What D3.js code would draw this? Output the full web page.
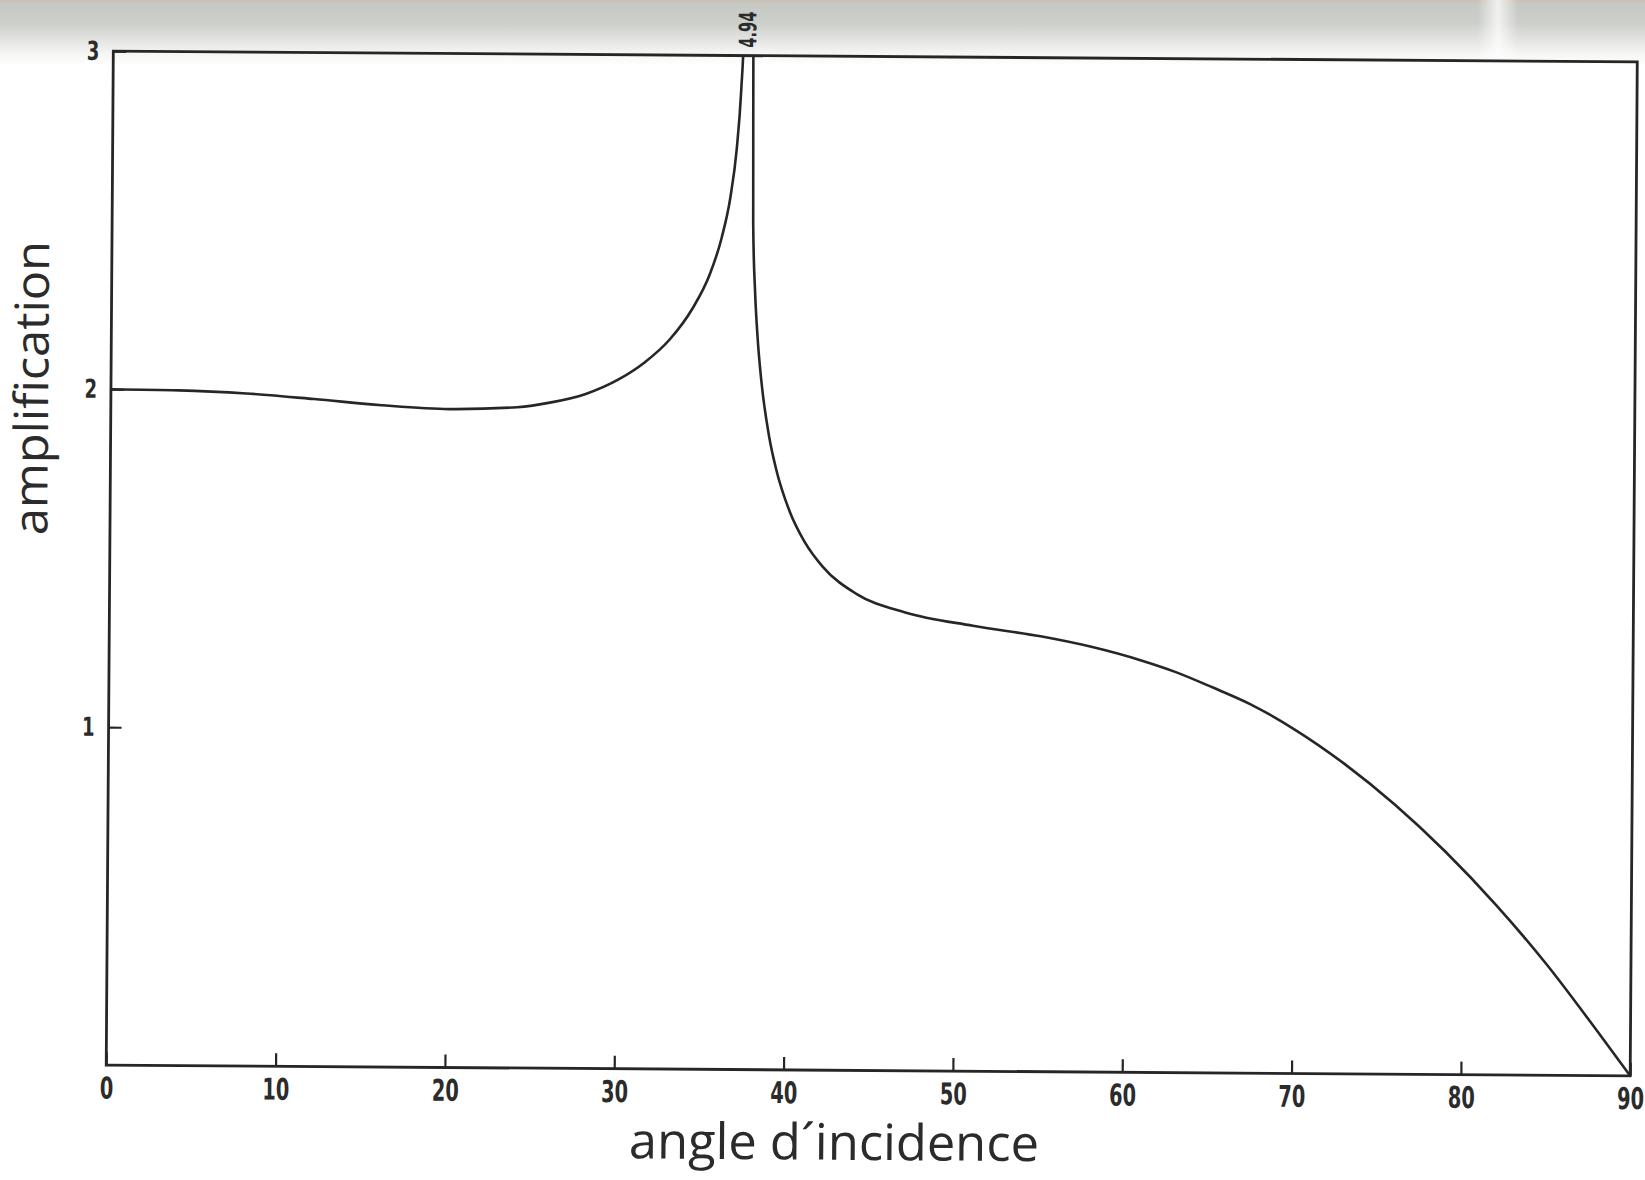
<!DOCTYPE html>
<html>
<head>
<meta charset="utf-8">
<script src="https://cdn.jsdelivr.net/npm/d3@7"></script>
<style>
  html, body { margin: 0; padding: 0; background: #ffffff; }
  svg { display: block; }
</style>
</head>
<body>
<svg id="chart" width="1645" height="1180"></svg>
<script>
// Angle of incidence (degrees) and amplification factor
const angles = [
  0, 4, 8, 12, 16, 20, 24, 26, 28, 30, 31.5, 33, 34.3, 35.3, 36, 36.5, 36.85, 37.1, 37.25,
  37.45,
  37.8, 37.86, 38.0, 38.16, 38.4, 38.9, 39.3, 40.15, 41, 42.1, 44.1, 47, 51, 55, 58, 61, 63,
  65.2, 67.4, 70, 73, 76, 79, 82, 85, 88, 90
];
const amplification = [
  2.00, 1.998, 1.99, 1.975, 1.958, 1.948, 1.955, 1.97, 1.995, 2.04, 2.09, 2.16, 2.25, 2.35, 2.46, 2.58, 2.72, 2.9, 3.1,
  4.94,
  3.0, 2.5, 2.3, 2.17, 2.04, 1.87, 1.78, 1.65, 1.565, 1.49, 1.41, 1.356, 1.318, 1.288, 1.258, 1.218, 1.185,
  1.14, 1.092, 1.019, 0.917, 0.797, 0.659, 0.503, 0.329, 0.134, 0
];
const peakAngle = 37.45;
const peakValue = 4.94;

const xTicks = [0, 10, 20, 30, 40, 50, 60, 70, 80, 90];
const yTicks = [1, 2, 3];
const xTitle = "angle d´incidence";
const yTitle = "amplification";

const W = 1645, H = 1180;
const plot = { left: 109.75, right: 1633.75, top: 56.5, bottom: 1070.5 };
const ink = "#262626";
const textInk = "#2b2b2b";
const tickFont = "'Liberation Sans Narrow', 'DejaVu Sans Condensed', 'Arial Narrow', sans-serif";
const titleFont = "'Open Sans', 'Lato', 'Noto Sans', sans-serif";

const svg = d3.select("#chart");

// Paper tone: grey shadow band along the top edge of the sheet
const defs = svg.append("defs");
const band = defs.append("linearGradient")
  .attr("id", "topShade").attr("x1", 0).attr("y1", 0).attr("x2", 0).attr("y2", 1);
[[0, "#cdbfb2"], [0.05, "#c6c8c3"], [0.35, "#cdcfcb"], [0.6, "#e3e4e1"], [0.82, "#f6f6f5"], [1, "#ffffff"]]
  .forEach(([o, c]) => band.append("stop").attr("offset", o).attr("stop-color", c));
const streak = defs.append("linearGradient")
  .attr("id", "streak").attr("x1", 0).attr("y1", 0).attr("x2", 1).attr("y2", 0);
[[0, "rgba(255,255,255,0)"], [0.5, "rgba(255,255,255,0.75)"], [1, "rgba(255,255,255,0)"]]
  .forEach(([o, c]) => streak.append("stop").attr("offset", o).attr("stop-color", c));

svg.append("rect").attr("width", W).attr("height", H).attr("fill", "#ffffff");
svg.append("rect").attr("width", W).attr("height", 66).attr("fill", "url(#topShade)");
svg.append("rect").attr("x", 1478).attr("width", 40).attr("height", 58).attr("fill", "url(#streak)");

// The plotted sheet sits slightly skewed
const g = svg.append("g")
  .attr("transform", `rotate(0.4, ${(plot.left + plot.right) / 2}, ${(plot.top + plot.bottom) / 2})`);

const x = d3.scaleLinear().domain([0, 90]).range([plot.left, plot.right]);
const y = d3.scaleLinear().domain([0, 3]).range([plot.bottom, plot.top]);

defs.append("clipPath").attr("id", "plotClip")
  .append("rect")
  .attr("x", plot.left).attr("y", plot.top)
  .attr("width", plot.right - plot.left).attr("height", plot.bottom - plot.top);

// Axes: short inward ticks, bold condensed numerals
const xAxis = g.append("g")
  .attr("transform", `translate(0,${plot.bottom})`)
  .call(d3.axisBottom(x).tickValues(xTicks).tickSize(-13).tickPadding(12).tickFormat(d3.format("d")));
const yAxis = g.append("g")
  .attr("transform", `translate(${plot.left},0)`)
  .call(d3.axisLeft(y).tickValues(yTicks).tickSize(-13).tickPadding(14).tickFormat(d3.format("d")));

[xAxis, yAxis].forEach(a => {
  a.select(".domain").remove();
  a.selectAll(".tick line").attr("stroke", ink).attr("stroke-width", 2.2);
  a.selectAll(".tick text")
    .attr("fill", textInk)
    .attr("font-family", tickFont)
    .attr("font-weight", "bold")
    .attr("lengthAdjust", "spacingAndGlyphs");
});
xAxis.selectAll(".tick text")
  .attr("font-size", 30)
  .attr("textLength", d => String(d).length * 13.5);
yAxis.selectAll(".tick text")
  .attr("font-size", 26)
  .attr("textLength", 12.5);

// Frame
g.append("rect")
  .attr("x", plot.left).attr("y", plot.top)
  .attr("width", plot.right - plot.left).attr("height", plot.bottom - plot.top)
  .attr("fill", "none").attr("stroke", ink).attr("stroke-width", 2.8);

// Amplification curve, clipped at the top of the frame
const line = d3.line()
  .x((d, i) => x(angles[i]))
  .y(d => y(d))
  .curve(d3.curveMonotoneX);

g.append("path")
  .datum(amplification)
  .attr("clip-path", "url(#plotClip)")
  .attr("fill", "none")
  .attr("stroke", ink)
  .attr("stroke-width", 2.6)
  .attr("stroke-linejoin", "round")
  .attr("d", line);

// Off-scale peak value written above the frame
g.append("text")
  .attr("transform", `translate(${x(peakAngle)},${plot.top - 8}) rotate(-90)`)
  .attr("dy", "0.36em")
  .attr("fill", textInk)
  .attr("font-family", tickFont)
  .attr("font-weight", "bold")
  .attr("font-size", 24)
  .attr("textLength", 36)
  .attr("lengthAdjust", "spacingAndGlyphs")
  .text(d3.format(".2f")(peakValue));

// Axis titles
g.append("text")
  .attr("x", 838).attr("y", 1160)
  .attr("text-anchor", "middle")
  .attr("fill", textInk)
  .attr("font-family", titleFont)
  .attr("font-weight", 400)
  .attr("font-size", 50)
  .attr("textLength", 410)
  .attr("lengthAdjust", "spacingAndGlyphs")
  .text(xTitle);

g.append("text")
  .attr("transform", `translate(47,394) rotate(-90)`)
  .attr("text-anchor", "middle")
  .attr("fill", textInk)
  .attr("font-family", titleFont)
  .attr("font-weight", 400)
  .attr("font-size", 47)
  .attr("textLength", 294)
  .attr("lengthAdjust", "spacingAndGlyphs")
  .text(yTitle);
</script>
</body>
</html>
